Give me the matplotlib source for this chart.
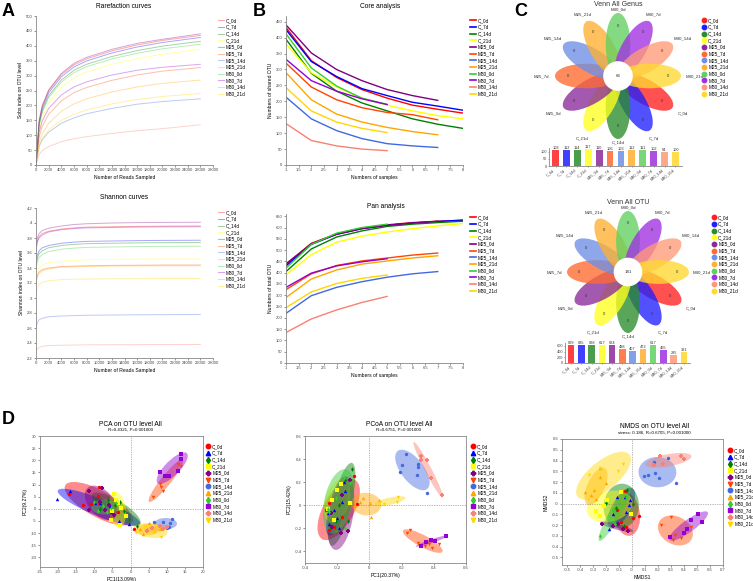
import matplotlib
matplotlib.use('Agg')
import matplotlib.pyplot as plt
from matplotlib.patches import Ellipse, Circle
from matplotlib.lines import Line2D
import numpy as np

# ---------------- data ----------------
groups = ['C_0d', 'C_7d', 'C_14d', 'C_21d', 'M25_0d', 'M25_7d', 'M25_14d', 'M25_21d',
          'M30_0d', 'M30_7d', 'M30_14d', 'M30_21d']
colors = ['#FF0000', '#0000FF', '#008000', '#FFFF00', '#800080', '#FF4500', '#4169E1', '#FFA500',
          '#32CD32', '#9400D3', '#FA8072', '#FFD700']
markers = ['o', '^', 'd', 's', 'P', 'v', 'o', '^', 'd', 's', 'P', 'v']
venn_colors = ['#FF2020', '#2020FF', '#2A8C2A', '#FFFF20', '#8B2A9A', '#FF6A30', '#6F8FE6', '#FFB030',
               '#60D060', '#A030E0', '#FF9A78', '#FFD830']

# rarefaction (Sobs)
rare_x = [0, 500, 1000, 2000, 4000, 6000, 8000, 12000, 16000, 20000, 26000]
rare_y = [
    [0, 148, 198, 249, 303, 336, 356, 383, 403, 418, 435],
    [0, 140, 190, 242, 296, 329, 349, 376, 396, 411, 428],
    [0, 135, 182, 232, 285, 318, 338, 364, 384, 399, 415],
    [0, 115, 160, 208, 260, 292, 312, 338, 357, 372, 388],
    [0, 150, 200, 252, 307, 341, 361, 388, 408, 422, 440],
    [0, 95, 130, 170, 215, 243, 260, 284, 302, 315, 327],
    [0, 62, 85, 110, 140, 158, 172, 190, 204, 213, 222],
    [0, 75, 105, 140, 180, 205, 222, 245, 262, 274, 285],
    [0, 132, 178, 226, 278, 310, 330, 356, 375, 390, 405],
    [0, 110, 148, 190, 235, 262, 279, 302, 318, 328, 338],
    [0, 35, 48, 62, 78, 88, 95, 106, 115, 122, 135],
    [0, 65, 90, 118, 150, 170, 185, 205, 220, 230, 240],
]

# Shannon
shan_x = [0, 200, 500, 1000, 2000, 4000, 6000, 8000, 12000, 16000, 20000, 26000]
shan_y = [
    [3.65, 3.76, 3.82, 3.86, 3.89, 3.92, 3.935, 3.945, 3.95, 3.955, 3.958, 3.96],
    [3.45, 3.57, 3.63, 3.67, 3.70, 3.73, 3.745, 3.755, 3.76, 3.765, 3.768, 3.77],
    [3.42, 3.53, 3.59, 3.63, 3.67, 3.70, 3.715, 3.725, 3.73, 3.735, 3.738, 3.74],
    [3.25, 3.35, 3.40, 3.44, 3.47, 3.49, 3.50, 3.51, 3.515, 3.518, 3.52, 3.52],
    [3.70, 3.80, 3.86, 3.90, 3.93, 3.96, 3.98, 3.99, 4.00, 4.005, 4.008, 4.01],
    [3.20, 3.30, 3.35, 3.38, 3.40, 3.42, 3.425, 3.43, 3.435, 3.437, 3.44, 3.44],
    [2.60, 2.67, 2.71, 2.73, 2.75, 2.76, 2.765, 2.77, 2.773, 2.776, 2.778, 2.78],
    [3.18, 3.28, 3.33, 3.36, 3.39, 3.41, 3.415, 3.42, 3.425, 3.427, 3.43, 3.43],
    [3.38, 3.48, 3.54, 3.58, 3.62, 3.65, 3.665, 3.675, 3.68, 3.685, 3.688, 3.69],
    [3.62, 3.74, 3.80, 3.84, 3.88, 3.91, 3.925, 3.935, 3.94, 3.945, 3.948, 3.95],
    [2.28, 2.32, 2.34, 2.355, 2.365, 2.37, 2.373, 2.375, 2.377, 2.378, 2.379, 2.38],
    [3.05, 3.14, 3.18, 3.21, 3.23, 3.245, 3.25, 3.253, 3.256, 3.258, 3.26, 3.26],
]

# core / pan
core = [
    [432, 328, 275, 237, 210, 188, 175, 163],
    [425, 325, 278, 240, 218, 197, 185, 172],
    [395, 288, 232, 195, 170, 145, 128, 115],
    [380, 290, 245, 210, 188, 170, 155, 145],
    [440, 352, 300, 265, 237, 218, 203],
    [320, 245, 205, 180, 165, 158, 142],
    [213, 145, 108, 83, 67, 60, 55],
    [290, 205, 160, 135, 118, 105, 95],
    [412, 305, 248, 210, 190],
    [332, 265, 232, 208, 190],
    [130, 77, 60, 50, 45],
    [243, 170, 135, 115, 102],
]
pan = [
    [435, 530, 572, 597, 612, 622, 628, 632],
    [430, 525, 570, 595, 610, 620, 627, 633],
    [405, 505, 558, 585, 605, 615, 622, 628],
    [390, 480, 535, 562, 580, 595, 607, 618],
    [440, 528, 570, 595, 610, 620, 628],
    [325, 395, 432, 452, 465, 478, 487],
    [220, 298, 335, 360, 380, 395, 405],
    [290, 372, 412, 438, 452, 465, 475],
    [420, 525, 575, 600, 615],
    [335, 398, 430, 448, 462],
    [135, 195, 235, 268, 295],
    [245, 315, 352, 375, 390],
]

# venn
genus_counts = [108, 112, 114, 117, 110, 106, 103, 112, 111, 102, 94, 100]
genus_core = 66
otu_counts = [629, 635, 628, 617, 624, 488, 407, 473, 617, 465, 295, 381]
otu_core = 181

# ordinations: per group list of (x, y)
pca = [
    [(-17.1, 6.1), (-8.8, 9.0), (-8.9, 5.3), (-11.0, 2.0), (-13.2, 1.4), (-8.6, 2.5), (-3.5, -1.4), (0.9, -8.3)],
    [(-20.2, 3.9), (-16.7, 7.2), (-9.7, 2.5), (-8.3, 2.5), (-5.8, 1.0), (-5.3, -1.4), (-3.1, -4.9), (-0.5, -6.3)],
    [(-9.9, 4.2), (-8.3, 0.0), (-6.3, 3.5), (-2.8, 2.8), (-1.7, -1.1), (-0.5, -4.4), (1.8, -7.2), (-4.2, 1.4)],
    [(-4.5, 6.0), (-3.5, 2.2), (-2.5, 0.5), (-5.0, -1.0), (-5.5, -4.5), (-3.0, -6.8), (-1.2, -3.0), (-4.0, 3.5)],
    [(-11.5, 7.5), (-8.0, 8.5), (-11.5, -0.5), (-8.5, 3.0), (-7.0, -0.5), (-6.0, 1.5), (-4.5, -2.5)],
    [(6.2, 4.8), (8.2, 10.3), (8.5, 9.0), (9.0, 7.3), (9.2, 13.5), (13.2, 18.3), (14.0, 17.8)],
    [(6.5, -5.5), (9.0, -5.5), (10.5, -7.5), (11.0, -5.8), (11.5, -4.3), (10.0, -7.8)],
    [(3.5, -10.5), (4.5, -8.5), (5.0, -6.0), (6.5, -9.0), (8.0, -8.5), (2.5, -8.5)],
    [(-10.0, 3.0), (-7.5, 1.0), (-9.0, -1.0), (-6.5, -1.5), (-4.0, 2.5), (-5.5, 0.5)],
    [(8.0, 15.0), (9.5, 13.5), (10.5, 13.5), (13.0, 15.5), (14.0, 20.5), (14.0, 22.5)],
    [(4.5, -9.0), (6.0, -8.0), (8.0, -7.0), (9.0, -8.5), (10.0, -7.5)],
    [(1.5, -9.5), (4.0, -7.5), (6.5, -9.5), (8.5, -11.5), (7.0, -7.0)],
]
pcoa = [
    [(-0.25, 0.02), (-0.27, -0.04), (-0.25, -0.21), (-0.22, -0.19), (-0.095, 0.25), (-0.08, 0.01), (-0.17, -0.10)],
    [(-0.26, -0.07), (-0.25, -0.16), (-0.19, -0.20), (-0.17, 0.03), (-0.16, 0.20), (-0.15, 0.12), (-0.20, -0.11), (-0.22, -0.04)],
    [(-0.11, 0.31), (-0.13, -0.14), (-0.24, -0.20), (-0.21, -0.14), (-0.15, 0.22), (-0.19, 0.0)],
    [(-0.20, 0.13), (-0.175, 0.18), (-0.12, 0.02), (-0.23, 0.05), (-0.22, -0.13), (-0.26, -0.03)],
    [(-0.24, -0.07), (-0.175, -0.24), (-0.13, -0.22), (-0.12, 0.22), (-0.17, 0.09), (-0.23, -0.19)],
    [(0.235, -0.24), (0.25, -0.21), (0.30, -0.33), (0.345, -0.35), (0.37, -0.335), (0.43, -0.335), (0.39, -0.37)],
    [(0.19, 0.29), (0.20, 0.35), (0.225, 0.44), (0.30, 0.36), (0.30, 0.33), (0.295, 0.26), (0.36, 0.11)],
    [(-0.09, 0.0), (-0.04, 0.06), (0.005, 0.02), (0.01, -0.10), (0.06, 0.05), (-0.06, 0.03)],
    [(-0.26, -0.03), (-0.16, 0.24), (-0.12, 0.19), (-0.15, -0.20), (-0.25, -0.06), (-0.21, 0.06)],
    [(0.32, -0.35), (0.35, -0.32), (0.385, -0.30), (0.41, -0.31), (0.475, -0.27)],
    [(0.32, 0.43), (0.32, 0.39), (0.355, 0.39), (0.38, 0.24), (0.45, 0.09)],
    [(0.09, 0.01), (0.17, 0.03), (0.18, 0.07), (0.065, 0.03)],
]
nmds = [
    [(-0.054, 0.12), (0.05, -0.115), (0.005, -0.13), (-0.115, -0.055), (-0.085, -0.175), (-0.045, -0.22)],
    [(-0.175, -0.24), (-0.115, 0.06), (-0.055, 0.06), (-0.045, -0.08), (-0.025, -0.01), (-0.15, -0.10), (-0.02, 0.035)],
    [(-0.2, 0.005), (-0.04, 0.13), (0.005, 0.0), (-0.06, -0.21), (-0.125, -0.04)],
    [(-0.28, -0.07), (-0.25, -0.115), (-0.195, 0.035), (-0.085, 0.11), (-0.01, -0.10), (-0.22, -0.02)],
    [(-0.23, -0.19), (-0.07, -0.24), (-0.035, -0.25), (-0.15, -0.205), (-0.11, -0.19)],
    [(0.22, -0.2), (0.30, -0.125), (0.33, -0.29), (0.315, -0.34), (0.38, -0.32), (0.455, -0.22)],
    [(0.09, 0.255), (0.12, 0.27), (0.165, 0.385), (0.175, 0.28), (0.205, 0.235), (0.275, 0.425), (0.335, 0.195)],
    [(-0.36, 0.105), (-0.315, 0.08), (-0.295, 0.125), (-0.25, 0.25), (-0.245, 0.33), (-0.2, 0.19), (-0.28, 0.04)],
    [(-0.245, -0.30), (-0.135, -0.19), (-0.045, 0.065), (-0.10, 0.005), (-0.145, -0.055)],
    [(0.29, -0.31), (0.40, -0.27), (0.455, -0.155), (0.51, -0.095), (0.535, -0.175), (0.42, -0.24)],
    [(0.215, 0.44), (0.165, 0.355), (0.24, 0.365), (0.38, 0.44), (0.40, 0.41)],
    [(-0.34, 0.035), (-0.25, 0.33), (-0.11, 0.30), (-0.07, 0.365), (-0.33, 0.27)],
]

# ---------------- figure ----------------
W, H = 753, 581
fig = plt.figure(figsize=(W / 100, H / 100), dpi=100)
plt.rcParams['font.family'] = ['Liberation Sans', 'DejaVu Sans']
GRAY = '#888888'


def px_axes(x0, y0, x1, y1):
    return fig.add_axes([x0 / W, 1 - y1 / H, (x1 - x0) / W, (y1 - y0) / H])


def ftext(x, y, s, **kw):
    fig.text(x / W, 1 - y / H, s, **kw)


def style(ax, box=False):
    for side in ['top', 'right']:
        ax.spines[side].set_visible(box)
    for sp in ax.spines.values():
        sp.set_color(GRAY)
        sp.set_linewidth(0.6)
    ax.tick_params(labelsize=3, length=1.5, width=0.4, pad=1, colors='#444444')


def legend_at(ax, handles, x, ytop, fs=3.4, hl=1.2):
    ax.legend(handles=handles, loc='upper left', bbox_to_anchor=(x / W, 1 - ytop / H),
              bbox_transform=fig.transFigure, frameon=False, fontsize=fs, labelspacing=0.35,
              handlelength=hl, handletextpad=0.5, borderpad=0, borderaxespad=0)


# panel letters
for lx, ly, lt in [(2, 16, 'A'), (253, 16, 'B'), (514, 16, 'C'), (2, 424, 'D')]:
    ftext(lx, ly, lt, fontsize=13, fontweight='bold')

# ---- A: rarefaction ----
ax = px_axes(36, 16, 213, 165)
for ys, c in zip(rare_y, colors):
    ax.plot(rare_x, ys, color=c, alpha=0.35, lw=0.7)
ax.set_xlim(0, 28000)
ax.set_ylim(0, 500)
ax.set_xticks(np.arange(0, 28001, 2000))
ax.set_yticks(np.arange(0, 501, 50))
style(ax)
ax.set_xlabel('Number of Reads Sampled', fontsize=3.6, labelpad=2)
ax.set_ylabel('Sobs index on OTU level', fontsize=3.6, labelpad=2)
ftext(124, 6, 'Rarefaction curves', fontsize=4.8, ha='center', va='center')
legend_at(ax, [Line2D([], [], color=c, alpha=0.35, lw=0.8, label=g) for g, c in zip(groups, colors)], 218, 18)

ax = px_axes(36, 208, 213, 358)
for ys, c in zip(shan_y, colors):
    ax.plot(shan_x, ys, color=c, alpha=0.35, lw=0.7)
ax.set_xlim(0, 28000)
ax.set_ylim(2.2, 4.2)
ax.set_xticks(np.arange(0, 28001, 2000))
ax.set_yticks(np.round(np.arange(2.2, 4.21, 0.2), 1))
ax.set_yticklabels([f'{v:g}' for v in np.round(np.arange(2.2, 4.21, 0.2), 1)])
style(ax)
ax.set_xlabel('Number of Reads Sampled', fontsize=3.6, labelpad=2)
ax.set_ylabel('Shannon index on OTU level', fontsize=3.6, labelpad=2)
ftext(124, 197, 'Shannon curves', fontsize=4.8, ha='center', va='center')
legend_at(ax, [Line2D([], [], color=c, alpha=0.35, lw=0.8, label=g) for g, c in zip(groups, colors)], 218, 210)

# ---- B: core / pan ----
ax = px_axes(286, 16, 463, 165)
for ys, c in zip(core, colors):
    ax.plot(np.arange(1, len(ys) + 1), ys, color=c, lw=1.0)
ax.set_xlim(1, 8)
ax.set_ylim(0, 468)
ax.set_xticks(np.arange(1, 8.01, 0.5))
ax.set_xticklabels([f'{v:g}' for v in np.arange(1, 8.01, 0.5)])
ax.set_yticks(np.arange(0, 451, 50))
style(ax)
ax.set_xlabel('Numbers of samples', fontsize=3.6, labelpad=2)
ax.set_ylabel('Numbers of shared OTU', fontsize=3.6, labelpad=2)
ftext(380, 6, 'Core analysis', fontsize=4.8, ha='center', va='center')
legend_at(ax, [Line2D([], [], color=c, lw=1.2, label=g) for g, c in zip(groups, colors)], 470, 18)

ax = px_axes(286, 214, 463, 363)
for ys, c in zip(pan, colors):
    ax.plot(np.arange(1, len(ys) + 1), ys, color=c, lw=1.0)
ax.set_xlim(1, 8)
ax.set_ylim(0, 660)
ax.set_xticks(np.arange(1, 8.01, 0.5))
ax.set_xticklabels([f'{v:g}' for v in np.arange(1, 8.01, 0.5)])
ax.set_yticks(np.arange(0, 651, 50))
style(ax)
ax.set_xlabel('Numbers of samples', fontsize=3.6, labelpad=2)
ax.set_ylabel('Numbers of total OTU', fontsize=3.6, labelpad=2)
ftext(386, 207, 'Pan analysis', fontsize=4.8, ha='center', va='center')
legend_at(ax, [Line2D([], [], color=c, lw=1.2, label=g) for g, c in zip(groups, colors)], 470, 215)


# ---- C: venn flowers ----
def flower(cx, cy, a, core_n, title, title_y):
    ax = px_axes(cx - 110, cy - 78, cx + 110, cy + 78)
    ax.set_xlim(cx - 110, cx + 110)
    ax.set_ylim(cy + 78, cy - 78)
    ax.axis('off')
    for i, (g, c) in enumerate(zip(groups, venn_colors)):
        ang = -30 * (i + 1)
        t = np.deg2rad(ang)
        ax.add_patch(Ellipse((cx + a * np.cos(t), cy - a * np.sin(t)), 2 * a, 0.78 * a,
                             angle=-ang, facecolor=c, edgecolor='none', alpha=0.78))
    for i, g in enumerate(groups):
        t = np.deg2rad(-30 * (i + 1))
        ax.text(cx + 1.6 * a * np.cos(t), cy - 1.6 * a * np.sin(t), '0', fontsize=3, ha='center',
                va='center', color='#333333')
        r = 2.12 * a + 0.3 * a * abs(np.cos(t))
        ax.text(cx + r * np.cos(t), cy - r * np.sin(t), g, fontsize=3.2, ha='center', va='center',
                color='#333333')
    ax.add_patch(Circle((cx, cy), 0.47 * a, facecolor='white', edgecolor='none'))
    ax.text(cx, cy, str(core_n), fontsize=3.2, ha='center', va='center', color='#333333')
    ftext(cx, title_y, title, fontsize=5, ha='center', va='center', color='#333333')


def venn_bars(x0, y0, x1, y1, counts, ymax, yt):
    ax = px_axes(x0, y0, x1, y1)
    xs = np.arange(len(groups))
    ax.bar(xs, counts, width=0.62, color=venn_colors, alpha=0.85)
    for xv, v in zip(xs, counts):
        ax.text(xv, v, str(v), fontsize=2.8, ha='center', va='bottom', color='#333333')
    ax.set_xlim(-0.6, len(groups) - 0.4)
    ax.set_ylim(0, ymax)
    ax.set_yticks(yt)
    ax.set_xticks(xs)
    ax.set_xticklabels(groups, rotation=40, ha='right')
    style(ax)
    ax.tick_params(labelsize=2.8, length=1, pad=0.5)


flower(618, 76, 31.5, genus_core, 'Venn All Genus', 5)
venn_bars(549, 148, 682, 166, genus_counts, 125, [0, 50, 100])
legend_at(plt.gca(), [Line2D([], [], marker='o', ls='none', ms=3.2, color=c, label=g)
                      for g, c in zip(groups, venn_colors)], 702, 18, hl=0.8)

flower(628, 272, 30.5, otu_core, 'Venn All OTU', 202)
venn_bars(565, 343, 690, 363, otu_counts, 700, [0, 200, 400, 600])
legend_at(plt.gca(), [Line2D([], [], marker='o', ls='none', ms=3.2, color=c, label=g)
                      for g, c in zip(groups, venn_colors)], 712, 215, hl=0.8)


# ---- D: ordinations ----
def conf_ellipse(ax, pts, color, k=1.7):
    p = np.array(pts)
    m = p.mean(axis=0)
    cov = np.cov(p.T)
    vals, vecs = np.linalg.eigh(cov)
    ang = np.degrees(np.arctan2(vecs[1, 1], vecs[0, 1]))
    ax.add_patch(Ellipse(m, 2 * k * np.sqrt(vals[1]), 2 * k * np.sqrt(vals[0]), angle=ang,
                         facecolor=color, edgecolor='none', alpha=0.45))


def ordination(rect, data, xlim, ylim, xt, yt, xl, yl, title, sub, tx, ty, legx, legy):
    ax = px_axes(*rect)
    for pts, c in zip(data, colors):
        conf_ellipse(ax, pts, c)
    for pts, c, mk, g in zip(data, colors, markers, groups):
        p = np.array(pts)
        ax.scatter(p[:, 0], p[:, 1], s=6, marker=mk, color=c, linewidths=0, zorder=3)
    ax.axhline(0, color='#777777', lw=0.5, ls=(0, (1, 1.5)))
    ax.axvline(0, color='#777777', lw=0.5, ls=(0, (1, 1.5)))
    ax.set_xlim(*xlim)
    ax.set_ylim(*ylim)
    ax.set_xticks(xt)
    ax.set_yticks(yt)
    ax.set_xticklabels([f'{v:g}' for v in xt])
    ax.set_yticklabels([f'{v:g}' for v in yt])
    style(ax, box=True)
    ax.set_xlabel(xl, fontsize=3.6, labelpad=1.5)
    ax.set_ylabel(yl, fontsize=3.6, labelpad=2)
    ftext(tx, ty, title, fontsize=4.8, ha='center', va='center')
    ftext(tx, ty + 6, sub, fontsize=3.2, ha='center', va='center')
    legend_at(ax, [Line2D([], [], marker=mk, ls='none', ms=3.2, color=c, label=g)
                   for g, c, mk in zip(groups, colors, markers)], legx, legy, hl=0.8)


ordination((40, 436, 203, 567), pca, (-25, 20), (-24, 30),
           np.arange(-25, 21, 5), np.arange(-20, 31, 5), 'PC1(13.09%)', 'PC2(9.27%)',
           'PCA on OTU level All', 'R=0.4321, P=0.001000', 130, 424, 206, 444)
ordination((305, 436, 466, 563), pcoa, (-0.4, 0.6), (-0.5, 0.6),
           np.round(np.arange(-0.4, 0.61, 0.2), 1), np.round(np.arange(-0.4, 0.61, 0.2), 1),
           'PC1(20.37%)', 'PC2(15.42%)',
           'PCoA on OTU level All', 'R=0.6751, P=0.001000', 399, 424, 471, 444)
ordination((562, 439, 723, 565), nmds, (-0.54, 0.7), (-0.57, 0.6),
           np.round(np.arange(-0.5, 0.71, 0.1), 1), np.round(np.arange(-0.5, 0.61, 0.1), 1),
           'NMDS1', 'NMDS2',
           'NMDS on OTU level All', 'stress: 0.186, R=0.6705, P=0.001000', 654, 427, 728, 448)

fig.savefig('out.png', dpi=100)
